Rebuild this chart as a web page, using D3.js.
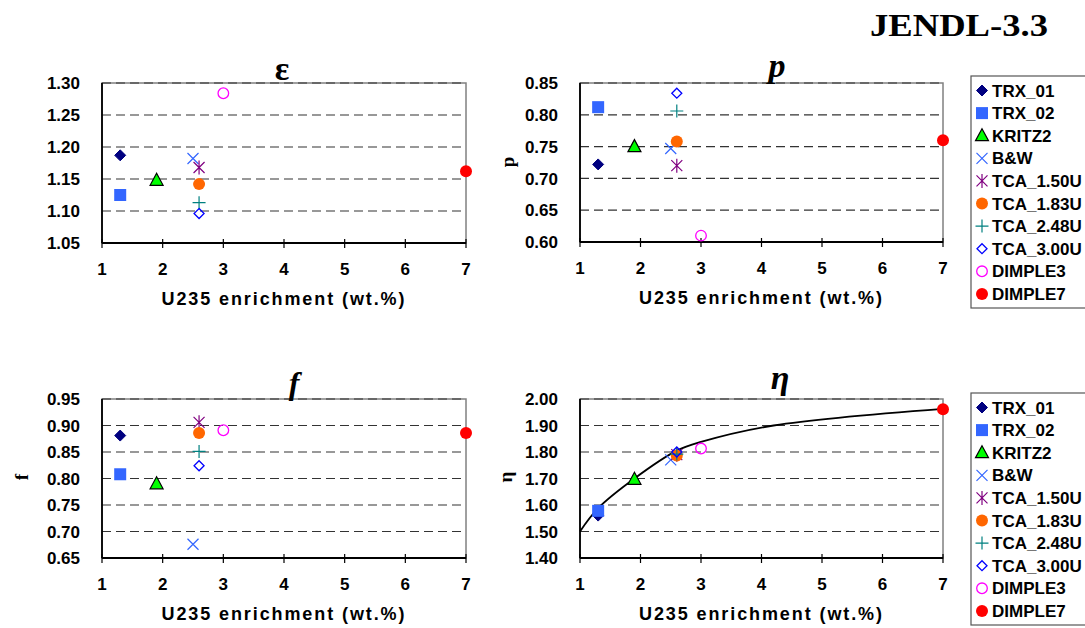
<!DOCTYPE html>
<html>
<head>
<meta charset="utf-8">
<script src="https://cdn.jsdelivr.net/npm/d3@7"></script>
<style>
  html, body { margin: 0; padding: 0; background: #fff; }
  svg { display: block; }
  .tick-label { font-family: "Liberation Sans", Arial, sans-serif; font-weight: bold; font-size: 17px; fill: #000; }
  .legend-label { font-family: "Liberation Sans", Arial, sans-serif; font-weight: bold; font-size: 17px; fill: #000; }
  .axis-title { font-family: "Liberation Sans", Arial, sans-serif; font-weight: bold; font-size: 18px; fill: #000; }
  .serif { font-family: "Liberation Serif", "Times New Roman", serif; font-weight: bold; fill: #000; }
</style>
</head>
<body>
<svg id="chart" width="1085" height="628"></svg>
<script>
// ---------------- DATA ----------------
const seriesNames = ["TRX_01", "TRX_02", "KRITZ2", "B&W", "TCA_1.50U", "TCA_1.83U", "TCA_2.48U", "TCA_3.00U", "DIMPLE3", "DIMPLE7"];
const enrichment  = [1.3, 1.3, 1.9, 2.5, 2.6, 2.6, 2.6, 2.6, 3.0, 7.0];
const epsilonValues = [1.187, 1.125, 1.148, 1.182, 1.168, 1.142, 1.113, 1.096, 1.284, 1.162];
const pValues       = [0.722, 0.812, 0.750, 0.747, 0.720, 0.758, 0.806, 0.834, 0.610, 0.760];
const fValues       = [0.881, 0.808, 0.790, 0.676, 0.906, 0.886, 0.851, 0.824, 0.891, 0.886];
const etaValues     = [1.560, 1.578, 1.697, 1.770, 1.790, 1.787, 1.792, 1.800, 1.813, 1.961];
const etaCurveX = [1.0, 1.3, 1.9, 2.6, 3.0, 4.2, 7.0];
const etaCurveY = [1.500, 1.588, 1.700, 1.805, 1.838, 1.900, 1.963];

const xTicks = [1, 2, 3, 4, 5, 6, 7];
const epsilonTicks = [1.05, 1.10, 1.15, 1.20, 1.25, 1.30];
const pTicks       = [0.60, 0.65, 0.70, 0.75, 0.80, 0.85];
const fTicks       = [0.65, 0.70, 0.75, 0.80, 0.85, 0.90, 0.95];
const etaTicks     = [1.40, 1.50, 1.60, 1.70, 1.80, 1.90, 2.00];

// ---------------- STYLES ----------------
const markerStyles = [
  { shape: "diamond",  color: "#000080", fill: true },
  { shape: "square",   color: "#3366FF", fill: true },
  { shape: "triangle", color: "#00FF00", fill: true, stroke: "#000" },
  { shape: "x",        color: "#3366FF" },
  { shape: "asterisk", color: "#800080" },
  { shape: "circle",   color: "#FF6600", fill: true },
  { shape: "plus",     color: "#008080" },
  { shape: "diamond",  color: "#0000FF", fill: false },
  { shape: "circle",   color: "#FF00FF", fill: false },
  { shape: "circle",   color: "#FF0000", fill: true }
];

const svg = d3.select("#chart");

function drawMarker(g, style, cx, cy) {
  const s = g.append("g").attr("transform", `translate(${cx},${cy})`);
  const c = style.color;
  switch (style.shape) {
    case "diamond": {
      const r = style.fill ? 5.5 : 5;
      s.append("path").attr("d", `M0,${-r}L${r},0L0,${r}L${-r},0Z`)
        .attr("fill", style.fill ? c : "none").attr("stroke", c).attr("stroke-width", style.fill ? 1 : 1.3);
      break;
    }
    case "square":
      s.append("rect").attr("x", -6).attr("y", -6).attr("width", 12).attr("height", 12).attr("fill", c);
      break;
    case "triangle":
      s.append("path").attr("d", "M0,-7L6.5,5L-6.5,5Z")
        .attr("fill", c).attr("stroke", style.stroke).attr("stroke-width", 1.2);
      break;
    case "x":
      s.append("path").attr("d", "M-5.5,-5.5L5.5,5.5M-5.5,5.5L5.5,-5.5")
        .attr("stroke", c).attr("stroke-width", 1.2).attr("fill", "none");
      break;
    case "asterisk":
      s.append("path").attr("d", "M-5.5,-5.5L5.5,5.5M-5.5,5.5L5.5,-5.5M0,-7L0,7")
        .attr("stroke", c).attr("stroke-width", 1.2).attr("fill", "none");
      break;
    case "plus":
      s.append("path").attr("d", "M-6.5,0L6.5,0M0,-6.5L0,6.5")
        .attr("stroke", c).attr("stroke-width", 1.2).attr("fill", "none");
      break;
    case "circle":
      if (style.fill) {
        s.append("circle").attr("r", 6).attr("fill", c);
      } else {
        s.append("circle").attr("r", 5.3).attr("fill", "none").attr("stroke", c).attr("stroke-width", 1.3);
      }
      break;
  }
}

const panels = [
  { values: epsilonValues, ticks: epsilonTicks, fmt: d3.format(".2f"),
    left: 102, right: 466, top: 83, bottom: 243,
    title: "ε", titleX: 282, titleY: 80, titleItalic: false, titleSize: 34,
    yTitle: null },
  { values: pValues, ticks: pTicks, fmt: d3.format(".2f"),
    left: 580, right: 943, top: 83, bottom: 242,
    title: "p", titleX: 777, titleY: 77, titleItalic: true, titleSize: 34,
    yTitle: "p", yTitleX: 514, yTitleY: 162 },
  { values: fValues, ticks: fTicks, fmt: d3.format(".2f"),
    left: 102, right: 466, top: 399, bottom: 558,
    title: "f", titleX: 294, titleY: 394, titleItalic: true, titleSize: 32,
    yTitle: "f", yTitleX: 28, yTitleY: 477 },
  { values: etaValues, ticks: etaTicks, fmt: d3.format(".2f"),
    left: 580, right: 943, top: 399, bottom: 558,
    title: "η", titleX: 780, titleY: 389, titleItalic: true, titleSize: 34,
    yTitle: "η", yTitleX: 512, yTitleY: 477, curve: true }
];

panels.forEach(p => {
  const x = d3.scaleLinear().domain([1, 7]).range([p.left, p.right]);
  const y = d3.scaleLinear().domain(d3.extent(p.ticks)).range([p.bottom, p.top]);
  const g = svg.append("g");

  // plot area border
  g.append("rect").attr("x", p.left).attr("y", p.top)
    .attr("width", p.right - p.left).attr("height", p.bottom - p.top)
    .attr("fill", "#fff").attr("stroke", "#808080").attr("stroke-width", 1.5);

  // dashed gridlines
  g.selectAll(".grid").data(p.ticks.slice(1)).enter().append("line")
    .attr("x1", p.left).attr("x2", p.right)
    .attr("y1", d => y(d)).attr("y2", d => y(d))
    .attr("stroke", "#333").attr("stroke-width", 1.2)
    .attr("stroke-dasharray", "9,5");

  // axes lines
  g.append("line").attr("x1", p.left).attr("x2", p.left).attr("y1", p.top).attr("y2", p.bottom)
    .attr("stroke", "#000").attr("stroke-width", 1.8);
  g.append("line").attr("x1", p.left).attr("x2", p.right).attr("y1", p.bottom).attr("y2", p.bottom)
    .attr("stroke", "#000").attr("stroke-width", 1.8);

  // x ticks
  g.selectAll(".xt").data(xTicks).enter().append("line")
    .attr("x1", d => x(d)).attr("x2", d => x(d))
    .attr("y1", p.bottom - 4).attr("y2", p.bottom + 5)
    .attr("stroke", "#000").attr("stroke-width", 1.2);
  g.selectAll(".xl").data(xTicks).enter().append("text")
    .attr("class", "tick-label")
    .attr("x", d => x(d)).attr("y", p.bottom + 32)
    .attr("text-anchor", "middle").text(d => d);

  // y tick labels
  g.selectAll(".yl").data(p.ticks).enter().append("text")
    .attr("class", "tick-label")
    .attr("x", p.left - 22).attr("y", d => y(d))
    .attr("dy", "0.36em")
    .attr("text-anchor", "end").text(d => p.fmt(d));

  // axis title
  g.append("text").attr("class", "axis-title")
    .attr("x", (p.left + p.right) / 2 - 1).attr("y", p.bottom + 62)
    .attr("text-anchor", "middle")
    .attr("textLength", 243).attr("lengthAdjust", "spacing")
    .text("U235 enrichment (wt.%)");

  // panel title
  g.append("text").attr("class", "serif")
    .attr("x", p.titleX).attr("y", p.titleY)
    .attr("text-anchor", "middle")
    .attr("font-size", p.titleSize)
    .attr("font-style", p.titleItalic ? "italic" : "normal")
    .text(p.title);

  // y title
  if (p.yTitle) {
    g.append("text").attr("class", "serif")
      .attr("font-size", 19)
      .attr("text-anchor", "middle")
      .attr("transform", `translate(${p.yTitleX},${p.yTitleY}) rotate(-90)`)
      .text(p.yTitle);
  }

  // curve
  if (p.curve) {
    const pts = etaCurveX.map((v, i) => [v, etaCurveY[i]]);
    const line = d3.line().x(d => x(d[0])).y(d => y(d[1])).curve(d3.curveCatmullRom.alpha(0.5));
    g.append("path").attr("d", line(pts)).attr("fill", "none")
      .attr("stroke", "#000").attr("stroke-width", 1.8);
  }

  // markers
  p.values.forEach((v, i) => {
    drawMarker(g, markerStyles[i], x(enrichment[i]), y(v));
  });
});

// legends
const legendTops = [76, 393];
legendTops.forEach(top => {
  const lg = svg.append("g");
  lg.append("rect").attr("x", 971).attr("y", top).attr("width", 130).attr("height", 232 - (top > 100 ? 0 : 0))
    .attr("fill", "#fff").attr("stroke", "#555").attr("stroke-width", 1.2);
  seriesNames.forEach((name, i) => {
    const cy = top + 14.5 + i * 22.6;
    drawMarker(lg, markerStyles[i], 982, cy);
    lg.append("text").attr("class", "legend-label")
      .attr("x", 992).attr("y", cy).attr("dy", "0.36em").text(name);
  });
});

// main title
svg.append("text").attr("class", "serif")
  .attr("x", 870).attr("y", 36)
  .attr("font-size", 31)
  .attr("textLength", 178).attr("lengthAdjust", "spacingAndGlyphs")
  .text("JENDL-3.3");
</script>
</body>
</html>
